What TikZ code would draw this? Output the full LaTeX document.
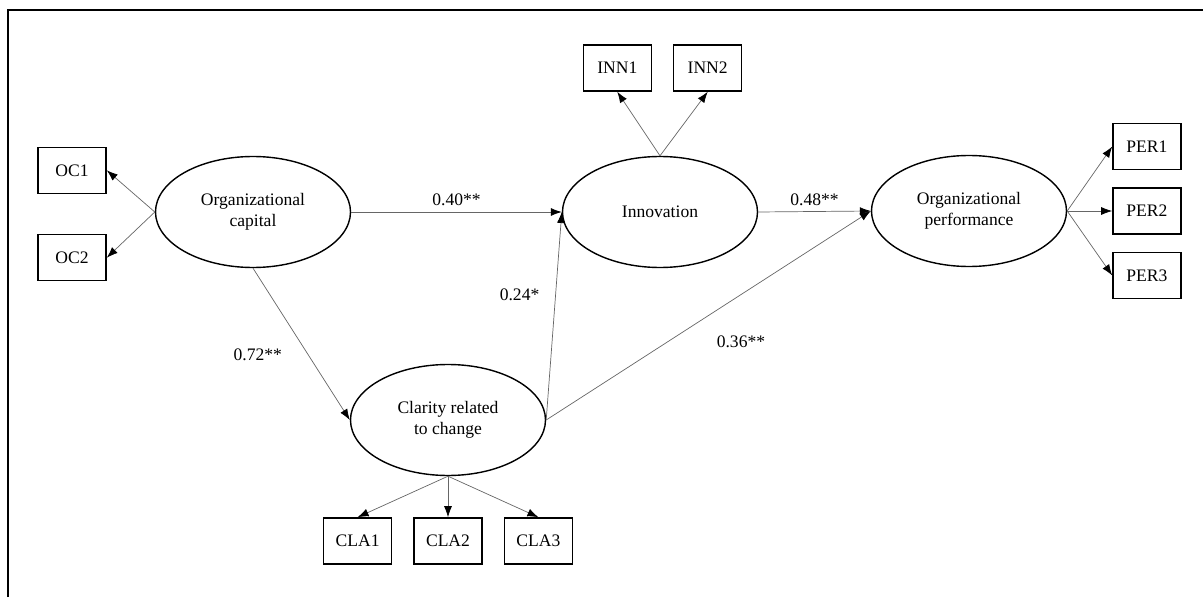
\documentclass[tikz,border=0pt]{standalone}
\usepackage{fontspec}
\setmainfont{Liberation Serif}
\usetikzlibrary{arrows.meta,positioning,shapes.geometric}

\begin{document}
\begin{tikzpicture}[
    every node/.style={font=\normalsize,align=center},
    latent/.style={draw,ellipse,line width=0.8pt,minimum width=3.9cm,
                   minimum height=2.22cm,inner sep=0pt},
    item/.style={draw,line width=0.8pt,minimum width=1.36cm,
                 minimum height=0.92cm,inner sep=0pt},
    arrow/.style={-{Latex[length=2.2mm,width=1.6mm,color=black]},
                  line width=0.4pt,draw=black!60}
]
\useasboundingbox (0,0) rectangle (24.06,11.94);
\draw[line width=1.4pt] (0.16,0) -- (0.16,11.74) -- (24.06,11.74);

\node[latent] (orgcap) at (5.06,7.70) {Organizational\\capital};
\node[latent] (innov) at (13.20,7.70) {Innovation};
\node[latent] (perf) at (19.38,7.72) {Organizational\\performance};
\node[latent] (clarity) at (8.96,3.54) {Clarity related\\to change};

\node[item,above left=0.36cm and 0.96cm of orgcap.west] (oc1) {OC1};
\node[item,below left=0.44cm and 0.96cm of orgcap.west] (oc2) {OC2};
\node[item,above left=1.28cm and 0.16cm of innov.north] (inn1) {INN1};
\node[item,above right=1.28cm and 0.26cm of innov.north] (inn2) {INN2};
\node[item,right=0.9cm of perf.east] (per2) {PER2};
\node[item,above=0.34cm of per2] (per1) {PER1};
\node[item,below=0.34cm of per2] (per3) {PER3};
\node[item,below=0.82cm of clarity.south] (cla2) {CLA2};
\node[item,left=0.42cm of cla2] (cla1) {CLA1};
\node[item,right=0.42cm of cla2] (cla3) {CLA3};

\draw[arrow] (orgcap.west) -- (oc1.east);
\draw[arrow] (orgcap.west) -- (oc2.east);
\draw[arrow] (innov.north) -- (inn1.south);
\draw[arrow] (innov.north) -- (inn2.south);
\draw[arrow] (perf.east) -- (per1.west);
\draw[arrow] (perf.east) -- (per2.west);
\draw[arrow] (perf.east) -- (per3.west);
\draw[arrow] (clarity.south) -- (cla1.north);
\draw[arrow] (clarity.south) -- (cla2.north);
\draw[arrow] (clarity.south) -- (cla3.north);

\draw[arrow] (orgcap.east) -- node[above] {0.40**} (innov.west);
\draw[arrow] (innov.east) -- node[above] {0.48**} (perf.west);
\draw[arrow] (orgcap.south) -- node[pos=0.57,left=0.4cm] {0.72**} (clarity.west);
\draw[arrow] (clarity.east) -- node[pos=0.6,left=0.2cm] {0.24*} (innov.west);
\draw[arrow] (clarity.east) -- node[pos=0.6,below=0.7cm] {0.36**} (perf.west);
\end{tikzpicture}
\end{document}
